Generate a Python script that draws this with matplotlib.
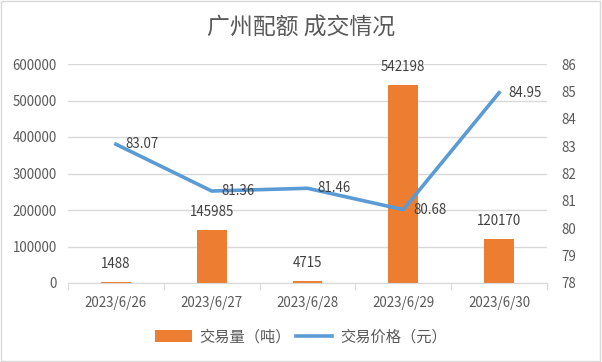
import matplotlib
matplotlib.use("Agg")
import matplotlib.pyplot as plt
from matplotlib.patches import Rectangle

plt.rcParams['font.family'] = ['Noto Sans CJK SC', 'DejaVu Sans']

dates = ["2023/6/26", "2023/6/27", "2023/6/28", "2023/6/29", "2023/6/30"]
volume = [1488, 145985, 4715, 542198, 120170]
price = [83.07, 81.36, 81.46, 80.68, 84.95]
left_ticks = [0, 100000, 200000, 300000, 400000, 500000, 600000]
right_ticks = [78, 79, 80, 81, 82, 83, 84, 85, 86]

W, H = 602, 362
fig = plt.figure(figsize=(W / 100, H / 100), dpi=100)
fig.patches.append(Rectangle((0.002, 0.003), 0.995, 0.993, transform=fig.transFigure,
                             fill=False, edgecolor='#D9D9D9', linewidth=1))

x0, x1, ytop, ybot = 68, 547, 64, 283
ax = fig.add_axes([x0 / W, 1 - ybot / H, (x1 - x0) / W, (ybot - ytop) / H])
ax2 = ax.twinx()

tc = '#595959'
fs = 9.6
xs = list(range(len(dates)))
ax.bar(xs, volume, width=0.31, color='#ED7D31', zorder=2, label='交易量（吨）')
ax.set_ylim(0, 600000)
ax.set_xlim(-0.5, len(dates) - 0.5)
ax.set_yticks(left_ticks)
ax.set_yticklabels([str(t) for t in left_ticks])
ax.grid(axis='y', color='#D9D9D9', linewidth=1, zorder=0)
ax.set_axisbelow(True)
for s in ['top', 'right', 'left']:
    ax.spines[s].set_visible(False)
ax.spines['bottom'].set_color('#D9D9D9')
ax.set_xticks([i + 0.5 for i in range(-1, len(dates))], minor=False)
ax.set_xticklabels([''] * (len(dates) + 1))
ax.tick_params(axis='x', which='major', length=5, color='#D9D9D9')
ax.set_xticks(xs, minor=True)
ax.set_xticklabels(dates, minor=True)
ax.tick_params(axis='x', which='minor', length=0, pad=9, labelsize=fs, labelcolor=tc)
ax.tick_params(axis='y', length=0, labelsize=fs, labelcolor=tc, pad=8)

for xi, v in zip(xs, volume):
    ax.annotate(str(v), (xi, v), xytext=(0, 8), textcoords='offset points',
                ha='center', va='bottom', fontsize=fs, color='#404040')

ax2.plot(xs, price, color='#5B9BD5', linewidth=2.6, zorder=3, label='交易价格（元）')
ax2.set_ylim(78, 86)
ax2.set_yticks(right_ticks)
for s in ['top', 'right', 'left', 'bottom']:
    ax2.spines[s].set_visible(False)
ax2.tick_params(axis='y', length=0, labelsize=fs, labelcolor=tc, pad=10)
for xi, p in zip(xs, price):
    ax2.annotate(f"{p:.2f}", (xi, p), xytext=(7, 0), textcoords='offset points',
                 ha='left', va='center', fontsize=fs, color='#404040')

fig.text(0.5, 1 - 28 / H, '广州配额 成交情况', ha='center', va='center', fontsize=16.5, color='#595959')

h1, l1 = ax.get_legend_handles_labels()
h2, l2 = ax2.get_legend_handles_labels()
fig.legend(h1 + h2, l1 + l2, loc='center', bbox_to_anchor=(0.5, 1 - 337 / H), ncol=2,
           frameon=False, fontsize=11, labelcolor=tc, handlelength=2.4, handleheight=0.8,
           columnspacing=0.3, handletextpad=0.5)

fig.savefig('out.png', dpi=100)
